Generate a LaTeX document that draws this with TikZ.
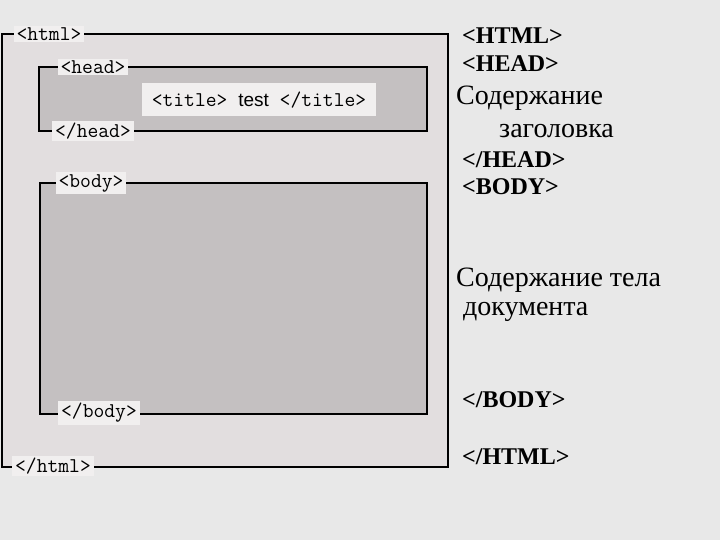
\documentclass[tikz,border=0pt]{standalone}
\usepackage{fontspec}
\setmainfont{Liberation Serif}
\newfontfamily\plainsans{Liberation Sans}

\definecolor{pagegray}{RGB}{232,232,232}
\definecolor{htmlgray}{RGB}{226,222,223}
\definecolor{boxgray}{RGB}{196,192,193}
\definecolor{taggray}{RGB}{241,239,239}

\tikzset{
  tagbox/.style={fill=taggray, inner xsep=3pt, inner ysep=2pt,
    font=\ttfamily\fontsize{21}{21}\selectfont},
  block/.style={draw=black, line width=2.8pt},
  bigtag/.style={anchor=west, inner sep=0pt, font=\bfseries\fontsize{24}{24}\selectfont},
  content/.style={anchor=west, inner sep=0pt, font=\fontsize{28}{28}\selectfont}
}

\begin{document}
\begin{tikzpicture}[x=1pt,y=-1pt]

  % page background
  \fill[pagegray] (0,0) rectangle (720,540);
  \useasboundingbox (0,0) rectangle (720,540);

  % html box
  \filldraw[block, fill=htmlgray] (2,34) rectangle (448,467);
  % head box
  \filldraw[block, fill=boxgray] (39,67) rectangle (427,131);
  % body box
  \filldraw[block, fill=boxgray] (40,183) rectangle (427,414);

  % title inside head
  \node[fill=taggray, minimum width=234pt, minimum height=33pt, inner sep=0pt,
        font=\ttfamily\fontsize{21}{21}\selectfont] (title) at (259,100)
        {<title> {\plainsans\fontsize{19}{19}\selectfont test} </title>};

  % tag labels on the lines
  \node[tagbox] (htmlopen)  at (49,34)  {<html>};
  \node[tagbox] (headopen)  at (93,67)  {<head>};
  \node[tagbox] (headclose) at (93,131) {</head>};
  \node[tagbox] (bodyopen)  at (91,183) {<body>};
  \node[tagbox] (bodyclose) at (99,413) {</body>};
  \node[tagbox] (htmlclose) at (53,466) {</html>};

  % text on the right
  \node[bigtag] (HTMLo) at (462,36)  {<HTML>};
  \node[bigtag] (HEADo) at (462,64)  {<HEAD>};
  \node[content] (headtxt) at (456,98)  {Содержание};
  \node[content] (headtxtb) at (499,131) {заголовка};
  \node[bigtag] (HEADc) at (462,160) {</HEAD>};
  \node[bigtag] (BODYo) at (462,187) {<BODY>};
  \node[content] (bodytxt) at (456,280) {Содержание тела};
  \node[content] (bodytxtb) at (463,312) {документа};
  \node[bigtag] (BODYc) at (462,400) {</BODY>};
  \node[bigtag] (HTMLc) at (462,457) {</HTML>};

\end{tikzpicture}
\end{document}
